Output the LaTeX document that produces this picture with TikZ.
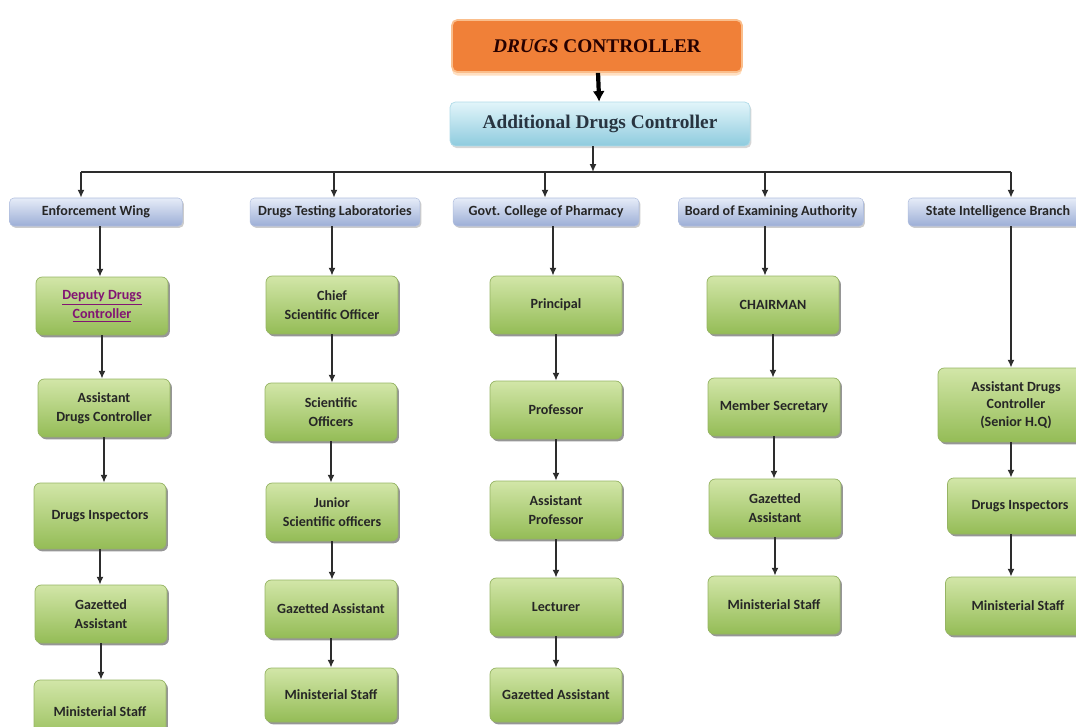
\documentclass[tikz,border=0pt]{standalone}
\usepackage{fontspec}
\setmainfont{Liberation Serif}
\newfontfamily\labelfont{Carlito}
\usetikzlibrary{positioning, arrows.meta, shadows}
\definecolor{chiefor}{RGB}{240,128,56}
\definecolor{chiefedge}{RGB}{250,190,140}
\definecolor{addltop}{RGB}{226,245,250}
\definecolor{addlbot}{RGB}{142,203,222}
\definecolor{addltext}{RGB}{40,52,64}
\definecolor{headtop}{RGB}{230,236,248}
\definecolor{headbot}{RGB}{156,174,214}
\definecolor{greentop}{RGB}{210,230,168}
\definecolor{greenbot}{RGB}{148,188,86}
\definecolor{greenedge}{RGB}{150,180,100}
\definecolor{linkpurple}{RGB}{130,20,115}
\definecolor{linegray}{RGB}{45,45,45}

\begin{document}
\begin{tikzpicture}[x=0.02cm, y=-0.02cm, >={Latex[length=4.5pt, width=4pt]},
    link/.style={->, draw=linegray, line width=0.9pt},
    headbox/.style={rounded corners=2.5pt, draw=headbot!80!white, line width=0.3pt, top color=headtop, bottom color=headbot, minimum height=0.56cm, font=\labelfont\bfseries\fontsize{8}{10}\selectfont, text=black!85, drop shadow={shadow xshift=0.8pt, shadow yshift=-1pt, fill=black!50, opacity=0.4}},
    staffbox/.style={rounded corners=3.5pt, draw=greenedge, line width=0.4pt, top color=greentop, bottom color=greenbot, minimum width=2.64cm, minimum height=1.16cm, align=center, font=\labelfont\bfseries\fontsize{8}{11}\selectfont, text=black!85, drop shadow={shadow xshift=1.1pt, shadow yshift=-1.3pt, fill=black!75, opacity=0.55}}]
  \useasboundingbox (0,0) rectangle (1076,727);
  \clip (0,0) rectangle (1076,727);

  % top of the chart
  \node[rounded corners=3pt, draw=chiefedge, line width=1pt, fill=chiefor, minimum width=5.8cm, minimum height=1.04cm, font=\bfseries\fontsize{11}{13}\selectfont, text=black!85!red, drop shadow={shadow xshift=0pt, shadow yshift=-2pt, fill=orange!35, opacity=0.7}] (dc) at (597,46) {\textit{DRUGS} CONTROLLER};
  \node[rounded corners=3pt, draw=addlbot!70!white, line width=0.4pt, top color=addltop, bottom color=addlbot, minimum width=6cm, minimum height=0.88cm, font=\bfseries\fontsize{11}{13}\selectfont, text=addltext, drop shadow={shadow xshift=0.8pt, shadow yshift=-1.2pt, fill=black!40, opacity=0.4}] (adc) at (600,124) {Additional Drugs Controller};
  \draw[->, draw=black, line width=2.4pt, >={Latex[length=6pt, width=7pt]}] (dc) -- (adc);

  % wings
  \node[headbox, minimum width=3.46cm] (ew) at (96,212) {Enforcement Wing};
  \node[headbox, minimum width=3.4cm] (dtl) at (335,212) {Drugs Testing Laboratories};
  \node[headbox, minimum width=3.72cm] (gcp) at (546,212) {Govt. College of Pharmacy};
  \node[headbox, minimum width=3.7cm] (bea) at (771,212) {Board of Examining Authority};
  \node[headbox, minimum width=3.6cm] (sib) at (998,212) {State Intelligence Branch};

  \coordinate (bus) at (593,172);
  \coordinate (t1) at (81,172);
  \coordinate (t2) at (334,172);
  \coordinate (t3) at (545,172);
  \coordinate (t4) at (765,172);
  \coordinate (t5) at (1011,172);
  \draw[link] (adc.south -| bus) -- (bus);
  \draw[draw=linegray, line width=0.9pt] (t1) -- (t5);
  \foreach \t/\h in {t1/ew, t2/dtl, t3/gcp, t4/bea, t5/sib}
    \draw[link] (\t) -- (\t |- \h.north);

  % Enforcement Wing
  \node[staffbox] (e1) at (102,306) {\textcolor{linkpurple}{\underline{Deputy Drugs}}\\\textcolor{linkpurple}{\underline{Controller}}};
  \node[staffbox] (e2) at (104,408) {Assistant\\Drugs Controller};
  \node[staffbox, minimum height=1.32cm] (e3) at (100,516) {Drugs Inspectors};
  \node[staffbox] (e4) at (101,614) {Gazetted\\Assistant};
  \node[staffbox, minimum height=1.28cm] (e5) at (100,712) {Ministerial Staff};

  % Drugs Testing Laboratories
  \node[staffbox] (l1) at (332,305) {Chief\\Scientific Officer};
  \node[staffbox] (l2) at (331,412) {Scientific\\Officers};
  \node[staffbox] (l3) at (332,512) {Junior\\Scientific officers};
  \node[staffbox] (l4) at (331,609) {Gazetted Assistant};
  \node[staffbox, minimum height=1.08cm] (l5) at (331,695) {Ministerial Staff};

  % Govt. College of Pharmacy
  \node[staffbox] (p1) at (556,305) {Principal};
  \node[staffbox] (p2) at (556,410) {Professor};
  \node[staffbox] (p3) at (556,510) {Assistant\\Professor};
  \node[staffbox] (p4) at (556,607) {Lecturer};
  \node[staffbox, minimum height=1.08cm] (p5) at (556,695) {Gazetted Assistant};

  % Board of Examining Authority
  \node[staffbox] (b1) at (773,305) {CHAIRMAN};
  \node[staffbox] (b2) at (774,407) {Member Secretary};
  \node[staffbox] (b3) at (775,508) {Gazetted\\Assistant};
  \node[staffbox] (b4) at (774,605) {Ministerial Staff};

  % State Intelligence Branch
  \node[staffbox, minimum width=3.12cm, minimum height=1.48cm, font=\labelfont\bfseries\fontsize{8}{10}\selectfont] (s1) at (1016,405) {Assistant Drugs\\Controller\\(Senior H.Q)};
  \node[staffbox, minimum width=2.9cm, minimum height=1.12cm] (s2) at (1020,506) {Drugs Inspectors};
  \node[staffbox, minimum width=2.9cm] (s3) at (1018,606) {Ministerial Staff};

  \draw[link] (ew.south -| 100,0) -- (100,0 |- e1.north);
  \draw[link] (dtl.south -| l1) -- (l1.north);
  \draw[link] (gcp.south -| 553,0) -- (553,0 |- p1.north);
  \draw[link, line width=1.6pt] (bea.south -| t4) -- (t4 |- b1.north);
  \draw[link] (sib.south -| t5) -- (t5 |- s1.north);
  \foreach \a/\b in {e1/e2, e2/e3, e3/e4, e4/e5, l1/l2, l2/l3, l3/l4, l4/l5, p1/p2, p2/p3, p3/p4, p4/p5, b1/b2, b2/b3, b3/b4}
    \draw[link] (\a.south) -- (\a.south |- \b.north);
  \draw[link] (s1.south -| t5) -- (t5 |- s2.north);
  \draw[link] (s2.south -| t5) -- (t5 |- s3.north);
\end{tikzpicture}
\end{document}
